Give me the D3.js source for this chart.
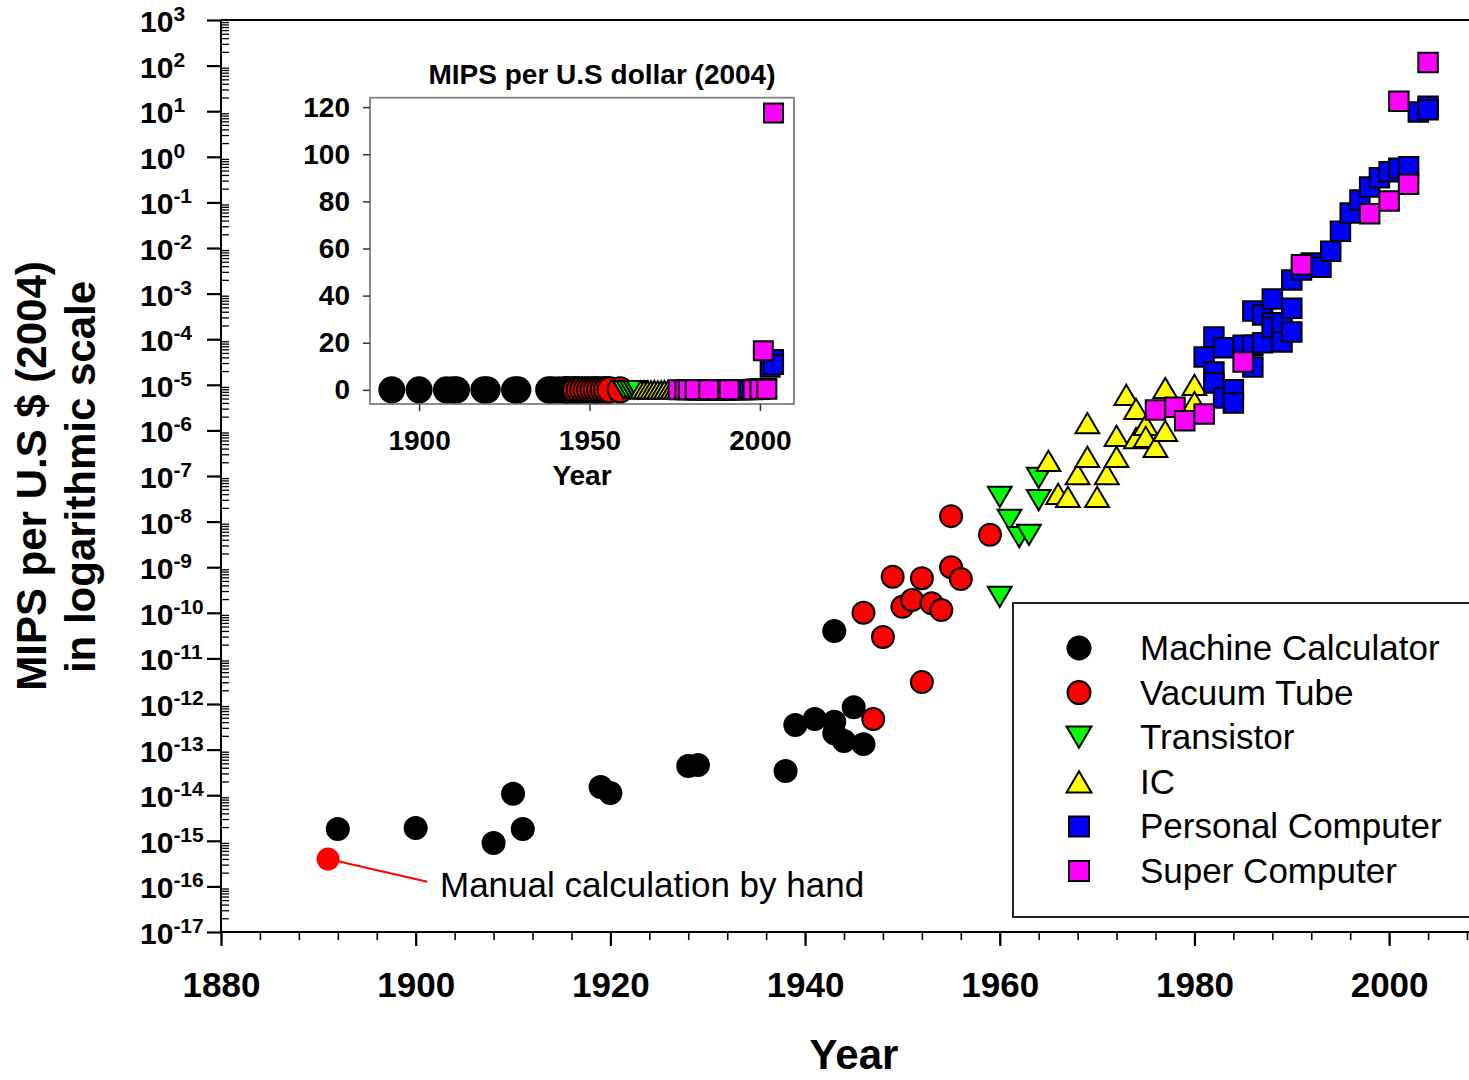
<!DOCTYPE html>
<html>
<head>
<meta charset="utf-8">
<script src="https://cdn.jsdelivr.net/npm/d3@7"></script>
<style>
  body { margin: 0; background: #fff; }
  svg { display: block; }
  text { font-family: "Liberation Sans", Arial, sans-serif; }
</style>
</head>
<body>
<svg id="chart" width="1469" height="1080"></svg>
<script>
// values are log10(MIPS per 2004 US $)
var calcYears = [1892,1900,1908,1910,1911,1919,1920,1928,1929,1938,1939,1941,1943,1943,1943,1944,1945,1946];
var calcLog   = [-14.74,-14.72,-15.05,-13.97,-14.74,-13.82,-13.95,-13.36,-13.34,-13.47,-12.46,-12.33,-10.40,-12.39,-12.64,-12.81,-12.07,-12.88];

var tubeYears = [1946,1947,1948,1949,1950,1951,1952,1952,1953,1954,1955,1955,1956,1959];
var tubeLog   = [-10.00,-12.33,-10.53,-9.21,-9.87,-9.72,-9.24,-11.52,-9.79,-9.94,-7.88,-9.00,-9.26,-8.29];

var transYears = [1960,1960,1961,1962,1963,1964,1964];
var transLog   = [-7.46,-9.65,-7.96,-8.34,-8.29,-7.04,-7.53];

var icYears = [1965,1966,1967,1968,1969,1969,1970,1971,1972,1972,1973,1974,1974,1975,1975,1976,1977,1977,1980,1980];
var icLog   = [-6.67,-7.39,-7.46,-6.96,-5.84,-6.58,-7.46,-6.96,-6.12,-6.58,-5.22,-5.53,-6.17,-5.88,-6.14,-6.36,-5.07,-6.01,-5.00,-5.38];

var pcYears = [1981,1982,1982,1982,1983,1983,1984,1984,1985,1986,1986,1986,1987,1987,1988,1988,1988,1989,1989,1990,1990,1990,1991,1992,1993,1994,1995,1996,1997,1998,1999,2000,2001,2002,2003,2004,2004];
var pcLog   = [-4.39,-3.95,-4.72,-4.96,-4.19,-5.29,-5.11,-5.40,-4.13,-3.38,-4.13,-4.61,-3.47,-4.08,-3.12,-3.64,-3.75,-3.64,-4.06,-2.70,-3.32,-3.84,-2.48,-2.33,-2.42,-2.07,-1.63,-1.23,-0.95,-0.66,-0.46,-0.33,-0.25,-0.22,0.98,1.11,1.03];

var superYears = [1976,1978,1979,1981,1985,1991,1998,2000,2002,2001,2004];
var superLog   = [-5.55,-5.49,-5.79,-5.64,-4.50,-2.37,-1.25,-0.97,-0.60,1.22,2.07];

var manualYear = [1891];
var manualLog = [-15.40];
var manualLabelAt = [1901.2, -15.90];

var yearTicks = [1880,1900,1920,1940,1960,1980,2000];
var decadeTicks = d3.range(-17, 4);
var insetXTicks = [1900,1950,2000];
var insetYTicks = [0,20,40,60,80,100,120];

var seriesNames = ["Machine Calculator","Vacuum Tube","Transistor","IC","Personal Computer","Super Computer"];
var seriesColors = ["#000000","#ff0000","#00ff00","#ffff00","#0000ff","#ff00ff"];
var seriesShapes = ["circle","circle","down","up","square","square"];
var seriesYears = [calcYears, tubeYears, transYears, icYears, pcYears, superYears];
var seriesLogs = [calcLog, tubeLog, transLog, icLog, pcLog, superLog];

var svg = d3.select("#chart");

var x = d3.scaleLinear().domain([1880, 2008]).range([221, 1467]);
var y = d3.scaleLog().domain([1e-17, 1e3]).range([932, 20]);

function shapePath(shape, s) {
  if (shape == "circle") return d3.symbol(d3.symbolCircle, Math.PI * s * s / 4)();
  if (shape == "square") return d3.symbol(d3.symbolSquare, s * s)();
  var w = s * 1.08, h = s * 0.92;
  if (shape == "up") return "M0," + (-h/2) + "L" + (w/2) + "," + (h/2) + "L" + (-w/2) + "," + (h/2) + "Z";
  return "M0," + (h/2) + "L" + (w/2) + "," + (-h/2) + "L" + (-w/2) + "," + (-h/2) + "Z";
}

// frame lines
svg.append("line").attr("x1", 221).attr("x2", 1469).attr("y1", 20).attr("y2", 20)
  .attr("stroke", "#000").attr("stroke-width", 2);
svg.append("line").attr("x1", 221).attr("x2", 1469).attr("y1", 932).attr("y2", 932)
  .attr("stroke", "#000").attr("stroke-width", 2);
svg.append("line").attr("x1", 221).attr("x2", 221).attr("y1", 20).attr("y2", 932)
  .attr("stroke", "#000").attr("stroke-width", 2);

// x axis
var minorX = d3.range(1880, 2009, 4);
var gxm = svg.append("g").attr("transform", "translate(0,932)")
  .call(d3.axisBottom(x).tickValues(minorX).tickSize(8).tickFormat(""));
gxm.select(".domain").remove();
gxm.selectAll("line").attr("stroke-width", 1.6);

var gx = svg.append("g").attr("transform", "translate(0,932)")
  .call(d3.axisBottom(x).tickValues(yearTicks).tickSize(14).tickFormat(d3.format("d")));
gx.select(".domain").remove();
gx.selectAll("line").attr("stroke-width", 2.2);
gx.selectAll("text").attr("y", 65).attr("dy", null)
  .style("font-size", "35px").style("font-weight", "bold").attr("fill", "#000");

// y axis: log minor ticks inside, decades outside
var minorY = [];
decadeTicks.forEach(function(e) {
  if (e < 3) for (var k = 2; k <= 9; k++) minorY.push(k * Math.pow(10, e));
});
var gym = svg.append("g").attr("transform", "translate(221,0)")
  .call(d3.axisRight(y).tickValues(minorY).tickSize(8).tickFormat(""));
gym.select(".domain").remove();
gym.selectAll("line").attr("stroke-width", 1.3);

var gy = svg.append("g").attr("transform", "translate(221,0)")
  .call(d3.axisLeft(y).tickValues(decadeTicks.map(function(e) { return Math.pow(10, e); }))
    .tickSize(14).tickFormat(""));
gy.select(".domain").remove();
gy.selectAll("line").attr("stroke-width", 2.2);

decadeTicks.forEach(function(e) {
  var t = svg.append("text").attr("x", 140).attr("y", y(Math.pow(10, e)) + 12)
    .style("font-size", "30px").style("font-weight", "bold");
  t.append("tspan").text("10");
  t.append("tspan").attr("dy", -11).style("font-size", "21px").text(String(e));
});

// axis titles
svg.append("text").attr("x", 854).attr("y", 1069).attr("text-anchor", "middle")
  .style("font-size", "42px").style("font-weight", "bold").text("Year");
svg.append("text").attr("transform", "translate(46,476) rotate(-90)").attr("text-anchor", "middle")
  .style("font-size", "42px").style("font-weight", "bold").text("MIPS per U.S $ (2004)");
svg.append("text").attr("transform", "translate(95,477) rotate(-90)").attr("text-anchor", "middle")
  .style("font-size", "42px").style("font-weight", "bold").text("in logarithmic scale");

// main points
seriesNames.forEach(function(name, i) {
  var pts = seriesYears[i].map(function(yr, j) { return {year: yr, v: Math.pow(10, seriesLogs[i][j])}; });
  svg.append("g").selectAll("path").data(pts).enter().append("path")
    .attr("d", shapePath(seriesShapes[i], seriesShapes[i] == "square" ? 19.5 : 22))
    .attr("transform", function(d) { return "translate(" + x(d.year) + "," + y(d.v) + ")"; })
    .attr("fill", seriesColors[i]).attr("stroke", "#000").attr("stroke-width", 2);
});

// manual calculation annotation
var mx = x(manualYear[0]), my = y(Math.pow(10, manualLog[0]));
svg.append("line").attr("x1", mx).attr("y1", my)
  .attr("x2", x(manualLabelAt[0])).attr("y2", y(Math.pow(10, manualLabelAt[1])))
  .attr("stroke", "#ff0000").attr("stroke-width", 2);
svg.append("circle").attr("cx", mx).attr("cy", my).attr("r", 11.5).attr("fill", "#ff0000");
svg.append("text").attr("x", 440).attr("y", 897).style("font-size", "35px").text("Manual calculation by hand");

// legend
svg.append("rect").attr("x", 1013).attr("y", 603).attr("width", 470).attr("height", 314)
  .attr("fill", "#fff").attr("stroke", "#222").attr("stroke-width", 2);
seriesNames.forEach(function(name, i) {
  var cy = 648 + i * 44.6;
  svg.append("path").attr("d", shapePath(seriesShapes[i], seriesShapes[i] == "square" ? 20 : 23))
    .attr("transform", "translate(1079," + cy + ")")
    .attr("fill", seriesColors[i]).attr("stroke", "#000").attr("stroke-width", 2);
  svg.append("text").attr("x", 1140).attr("y", cy + 12).style("font-size", "35px").text(name);
});

// inset (linear scale)
var ix = d3.scaleLinear().domain([1885.6, 2010]).range([370, 794]);
var iy = d3.scaleLinear().domain([-6, 124]).range([404, 97.7]);
var inset = svg.append("g");
inset.append("rect").attr("x", 370).attr("y", 97.7).attr("width", 424).attr("height", 306.3)
  .attr("fill", "#fff").attr("stroke", "#808080").attr("stroke-width", 1.8);

var igx = inset.append("g").attr("transform", "translate(0,404)")
  .call(d3.axisBottom(ix).tickValues(insetXTicks).tickSize(7).tickFormat(d3.format("d")));
igx.select(".domain").remove();
igx.selectAll("line").attr("stroke", "#333").attr("stroke-width", 1.5);
igx.selectAll("text").attr("y", 46).attr("dy", null)
  .style("font-size", "28px").style("font-weight", "bold").attr("fill", "#000");

var igy = inset.append("g").attr("transform", "translate(370,0)")
  .call(d3.axisLeft(iy).tickValues(insetYTicks).tickSize(7).tickPadding(13));
igy.select(".domain").remove();
igy.selectAll("line").attr("stroke", "#333").attr("stroke-width", 1.5);
igy.selectAll("text").style("font-size", "28px").style("font-weight", "bold").attr("fill", "#000");

inset.append("text").attr("x", 602).attr("y", 84).attr("text-anchor", "middle")
  .style("font-size", "28px").style("font-weight", "bold").text("MIPS per U.S dollar (2004)");
inset.append("text").attr("x", 582).attr("y", 485).attr("text-anchor", "middle")
  .style("font-size", "28px").style("font-weight", "bold").text("Year");

seriesNames.forEach(function(name, i) {
  var pts = seriesYears[i].map(function(yr, j) { return {year: yr, v: Math.pow(10, seriesLogs[i][j])}; });
  inset.append("g").selectAll("path").data(pts).enter().append("path")
    .attr("d", shapePath(seriesShapes[i], seriesShapes[i] == "circle" ? 25 : 19))
    .attr("transform", function(d) { return "translate(" + ix(d.year) + "," + iy(d.v) + ")"; })
    .attr("fill", seriesColors[i]).attr("stroke", "#000").attr("stroke-width", 2);
});
</script>
</body>
</html>
